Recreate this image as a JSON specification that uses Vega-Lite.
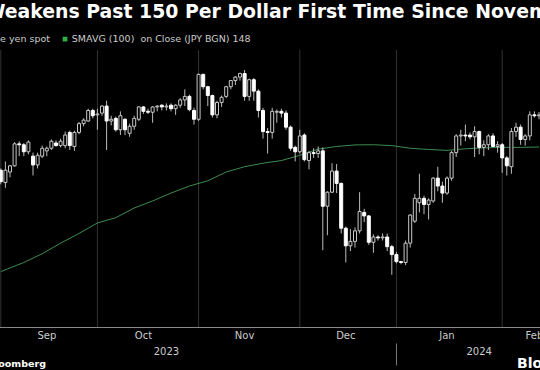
{
  "$schema": "https://vega.github.io/schema/vega-lite/v6.json",
  "width": 540,
  "height": 277,
  "autosize": {"type": "none"},
  "padding": {"top": 50, "left": 0, "right": 0, "bottom": 43},
  "background": "#000000",
  "config": {"view": {"stroke": null}, "font": "DejaVu Sans"},
  "title": {
    "text": "Yen Weakens Past 150 Per Dollar First Time Since November",
    "anchor": "start", "frame": "group", "dx": -60, "offset": -3,
    "baseline": "alphabetic", "font": "DejaVu Sans", "fontSize": 18.85,
    "fontWeight": "bold", "color": "#ffffff", "limit": 0
  },
  "datasets": {
    "candles": [
      {"d":"2023-08-31","o":146.2,"h":146.3,"l":145.4,"c":145.55},
      {"d":"2023-09-01","o":145.5,"h":146.7,"l":145.2,"c":146.2},
      {"d":"2023-09-04","o":146.1,"h":146.5,"l":145.8,"c":146.45},
      {"d":"2023-09-05","o":146.45,"h":147.8,"l":146.4,"c":147.7},
      {"d":"2023-09-06","o":147.7,"h":147.85,"l":147.0,"c":147.65},
      {"d":"2023-09-07","o":147.65,"h":147.75,"l":147.0,"c":147.25},
      {"d":"2023-09-08","o":147.25,"h":147.9,"l":147.1,"c":147.8},
      {"d":"2023-09-11","o":147.0,"h":147.2,"l":145.9,"c":146.5},
      {"d":"2023-09-12","o":146.5,"h":147.2,"l":146.3,"c":147.05},
      {"d":"2023-09-13","o":147.0,"h":147.6,"l":146.9,"c":147.45},
      {"d":"2023-09-14","o":147.3,"h":147.55,"l":147.0,"c":147.45},
      {"d":"2023-09-15","o":147.45,"h":147.95,"l":147.35,"c":147.85},
      {"d":"2023-09-18","o":147.75,"h":147.9,"l":147.55,"c":147.6},
      {"d":"2023-09-19","o":147.6,"h":148.0,"l":147.5,"c":147.85},
      {"d":"2023-09-20","o":147.6,"h":148.4,"l":147.45,"c":148.2},
      {"d":"2023-09-21","o":148.35,"h":148.45,"l":147.35,"c":147.6},
      {"d":"2023-09-22","o":147.55,"h":148.45,"l":147.3,"c":148.35},
      {"d":"2023-09-25","o":148.35,"h":148.95,"l":148.25,"c":148.85},
      {"d":"2023-09-26","o":148.85,"h":149.15,"l":148.7,"c":149.05},
      {"d":"2023-09-27","o":149.0,"h":149.7,"l":148.95,"c":149.6},
      {"d":"2023-09-28","o":149.6,"h":149.7,"l":149.15,"c":149.3},
      {"d":"2023-09-29","o":149.35,"h":149.7,"l":148.5,"c":149.4},
      {"d":"2023-10-02","o":149.45,"h":149.9,"l":149.3,"c":149.85},
      {"d":"2023-10-03","o":149.85,"h":150.15,"l":147.35,"c":149.0},
      {"d":"2023-10-04","o":149.0,"h":149.3,"l":148.75,"c":149.1},
      {"d":"2023-10-05","o":149.15,"h":149.25,"l":148.4,"c":148.5},
      {"d":"2023-10-06","o":148.5,"h":149.55,"l":148.2,"c":149.3},
      {"d":"2023-10-09","o":149.1,"h":149.15,"l":148.2,"c":148.5},
      {"d":"2023-10-10","o":148.3,"h":148.85,"l":148.1,"c":148.7},
      {"d":"2023-10-11","o":148.7,"h":149.3,"l":148.5,"c":149.15},
      {"d":"2023-10-12","o":149.1,"h":149.85,"l":149.0,"c":149.8},
      {"d":"2023-10-13","o":149.8,"h":149.85,"l":149.4,"c":149.55},
      {"d":"2023-10-16","o":149.55,"h":149.7,"l":149.4,"c":149.5},
      {"d":"2023-10-17","o":149.5,"h":149.85,"l":148.9,"c":149.8},
      {"d":"2023-10-18","o":149.8,"h":149.9,"l":149.55,"c":149.85},
      {"d":"2023-10-19","o":149.9,"h":149.95,"l":149.6,"c":149.8},
      {"d":"2023-10-20","o":149.8,"h":150.0,"l":149.6,"c":149.85},
      {"d":"2023-10-23","o":149.9,"h":150.0,"l":149.55,"c":149.7},
      {"d":"2023-10-24","o":149.7,"h":149.95,"l":149.35,"c":149.9},
      {"d":"2023-10-25","o":149.9,"h":150.3,"l":149.75,"c":150.2},
      {"d":"2023-10-26","o":150.2,"h":150.8,"l":149.85,"c":150.4},
      {"d":"2023-10-27","o":150.4,"h":150.5,"l":149.55,"c":149.65},
      {"d":"2023-10-30","o":149.6,"h":149.75,"l":148.8,"c":149.1},
      {"d":"2023-10-31","o":149.1,"h":151.7,"l":149.0,"c":151.65},
      {"d":"2023-11-01","o":151.65,"h":151.7,"l":150.8,"c":150.95},
      {"d":"2023-11-02","o":150.95,"h":151.0,"l":149.85,"c":150.45},
      {"d":"2023-11-03","o":150.45,"h":150.5,"l":149.2,"c":149.35},
      {"d":"2023-11-06","o":149.35,"h":150.15,"l":149.15,"c":150.05},
      {"d":"2023-11-07","o":150.05,"h":150.45,"l":149.8,"c":150.35},
      {"d":"2023-11-08","o":150.4,"h":151.0,"l":150.3,"c":150.95},
      {"d":"2023-11-09","o":150.95,"h":151.3,"l":150.8,"c":151.3},
      {"d":"2023-11-10","o":151.3,"h":151.55,"l":151.05,"c":151.5},
      {"d":"2023-11-13","o":151.5,"h":151.75,"l":151.3,"c":151.7},
      {"d":"2023-11-14","o":151.7,"h":151.9,"l":150.15,"c":150.4},
      {"d":"2023-11-15","o":150.4,"h":151.4,"l":150.15,"c":151.35},
      {"d":"2023-11-16","o":151.35,"h":151.45,"l":150.15,"c":150.7},
      {"d":"2023-11-17","o":150.7,"h":150.8,"l":149.2,"c":149.6},
      {"d":"2023-11-20","o":149.6,"h":149.75,"l":148.0,"c":148.4},
      {"d":"2023-11-21","o":148.4,"h":148.6,"l":147.15,"c":148.35},
      {"d":"2023-11-22","o":148.35,"h":149.75,"l":148.0,"c":149.55},
      {"d":"2023-11-23","o":149.5,"h":149.65,"l":148.9,"c":149.55},
      {"d":"2023-11-24","o":149.55,"h":149.7,"l":149.2,"c":149.45},
      {"d":"2023-11-27","o":149.45,"h":149.6,"l":148.5,"c":148.65},
      {"d":"2023-11-28","o":148.65,"h":148.75,"l":147.3,"c":147.45},
      {"d":"2023-11-29","o":147.5,"h":147.6,"l":146.7,"c":147.25},
      {"d":"2023-11-30","o":147.25,"h":148.5,"l":147.15,"c":148.15},
      {"d":"2023-12-01","o":148.2,"h":148.3,"l":146.7,"c":146.8},
      {"d":"2023-12-04","o":146.75,"h":147.3,"l":146.25,"c":147.2},
      {"d":"2023-12-05","o":147.2,"h":147.45,"l":146.9,"c":147.15},
      {"d":"2023-12-06","o":147.15,"h":147.55,"l":146.9,"c":147.3},
      {"d":"2023-12-07","o":147.3,"h":147.5,"l":141.65,"c":144.15},
      {"d":"2023-12-08","o":144.15,"h":145.0,"l":142.5,"c":144.95},
      {"d":"2023-12-11","o":144.95,"h":146.6,"l":144.9,"c":146.15},
      {"d":"2023-12-12","o":146.15,"h":146.55,"l":144.9,"c":145.45},
      {"d":"2023-12-13","o":145.45,"h":145.5,"l":142.6,"c":142.9},
      {"d":"2023-12-14","o":142.9,"h":143.0,"l":140.95,"c":141.9},
      {"d":"2023-12-15","o":141.9,"h":142.85,"l":141.6,"c":142.15},
      {"d":"2023-12-18","o":142.15,"h":142.95,"l":141.8,"c":142.75},
      {"d":"2023-12-19","o":142.75,"h":144.95,"l":142.6,"c":143.85},
      {"d":"2023-12-20","o":143.8,"h":144.0,"l":143.25,"c":143.6},
      {"d":"2023-12-21","o":143.6,"h":143.65,"l":141.95,"c":142.1},
      {"d":"2023-12-22","o":142.1,"h":142.55,"l":141.5,"c":142.4},
      {"d":"2023-12-25","o":142.4,"h":142.5,"l":142.2,"c":142.35},
      {"d":"2023-12-26","o":142.35,"h":142.6,"l":142.2,"c":142.4},
      {"d":"2023-12-27","o":142.4,"h":142.6,"l":141.6,"c":141.85},
      {"d":"2023-12-28","o":141.85,"h":141.95,"l":140.25,"c":141.4},
      {"d":"2023-12-29","o":141.4,"h":141.55,"l":140.9,"c":141.0},
      {"d":"2024-01-01","o":141.0,"h":141.05,"l":140.85,"c":140.95},
      {"d":"2024-01-02","o":140.95,"h":142.2,"l":140.8,"c":142.05},
      {"d":"2024-01-03","o":142.05,"h":143.7,"l":141.8,"c":143.65},
      {"d":"2024-01-04","o":143.3,"h":144.85,"l":143.2,"c":144.6},
      {"d":"2024-01-05","o":144.35,"h":146.0,"l":143.8,"c":144.6},
      {"d":"2024-01-08","o":144.6,"h":144.75,"l":143.7,"c":144.25},
      {"d":"2024-01-09","o":144.25,"h":144.6,"l":143.4,"c":144.5},
      {"d":"2024-01-10","o":144.45,"h":145.8,"l":144.35,"c":145.75},
      {"d":"2024-01-11","o":145.75,"h":146.4,"l":145.0,"c":145.3},
      {"d":"2024-01-12","o":145.3,"h":145.55,"l":144.35,"c":144.9},
      {"d":"2024-01-15","o":144.9,"h":145.85,"l":144.8,"c":145.75},
      {"d":"2024-01-16","o":145.75,"h":147.3,"l":145.6,"c":147.2},
      {"d":"2024-01-17","o":147.2,"h":148.25,"l":146.95,"c":148.15},
      {"d":"2024-01-18","o":148.15,"h":148.5,"l":147.6,"c":148.2},
      {"d":"2024-01-19","o":148.2,"h":148.8,"l":147.85,"c":148.15},
      {"d":"2024-01-22","o":148.2,"h":148.35,"l":147.95,"c":148.1},
      {"d":"2024-01-23","o":148.1,"h":148.7,"l":146.95,"c":148.4},
      {"d":"2024-01-24","o":148.4,"h":148.45,"l":147.1,"c":147.5},
      {"d":"2024-01-25","o":147.5,"h":147.9,"l":147.0,"c":147.65},
      {"d":"2024-01-26","o":147.65,"h":148.25,"l":147.35,"c":148.15},
      {"d":"2024-01-29","o":148.15,"h":148.3,"l":147.5,"c":147.55},
      {"d":"2024-01-30","o":147.55,"h":147.85,"l":147.2,"c":147.65},
      {"d":"2024-01-31","o":147.65,"h":147.75,"l":146.05,"c":146.9},
      {"d":"2024-02-01","o":146.9,"h":147.0,"l":145.9,"c":146.45},
      {"d":"2024-02-02","o":146.4,"h":148.6,"l":146.0,"c":148.4},
      {"d":"2024-02-05","o":148.4,"h":148.9,"l":148.1,"c":148.65},
      {"d":"2024-02-06","o":148.65,"h":148.8,"l":147.65,"c":147.95},
      {"d":"2024-02-07","o":147.95,"h":148.25,"l":147.6,"c":148.15},
      {"d":"2024-02-08","o":148.15,"h":149.55,"l":147.9,"c":149.35},
      {"d":"2024-02-09","o":149.35,"h":149.55,"l":149.2,"c":149.3},
      {"d":"2024-02-12","o":149.3,"h":149.5,"l":149.1,"c":149.35}
    ],
    "sma": [
      {"d":"2023-08-31","v":140.43},
      {"d":"2023-09-07","v":140.95},
      {"d":"2023-09-13","v":141.45},
      {"d":"2023-09-19","v":142.05},
      {"d":"2023-09-25","v":142.6},
      {"d":"2023-09-29","v":143.2},
      {"d":"2023-10-05","v":143.5},
      {"d":"2023-10-11","v":144.05},
      {"d":"2023-10-17","v":144.45},
      {"d":"2023-10-23","v":144.9},
      {"d":"2023-10-27","v":145.3},
      {"d":"2023-11-02","v":145.6},
      {"d":"2023-11-08","v":146.1},
      {"d":"2023-11-14","v":146.4},
      {"d":"2023-11-20","v":146.6},
      {"d":"2023-11-24","v":146.75},
      {"d":"2023-11-30","v":147.05},
      {"d":"2023-12-06","v":147.4},
      {"d":"2023-12-12","v":147.55},
      {"d":"2023-12-18","v":147.64},
      {"d":"2023-12-22","v":147.65},
      {"d":"2023-12-28","v":147.6},
      {"d":"2024-01-03","v":147.45},
      {"d":"2024-01-09","v":147.38},
      {"d":"2024-01-15","v":147.33},
      {"d":"2024-01-19","v":147.42},
      {"d":"2024-01-25","v":147.47},
      {"d":"2024-01-31","v":147.5},
      {"d":"2024-02-06","v":147.5},
      {"d":"2024-02-12","v":147.52}
    ],
    "monthEnds": [
      {"d":"2023-08-31"},
      {"d":"2023-09-29"},
      {"d":"2023-10-31"},
      {"d":"2023-11-30"},
      {"d":"2023-12-29"},
      {"d":"2024-01-31"}
    ]
  },
  "layer": [
    {
      "data": {"name": "monthEnds"},
      "mark": {"type": "rule", "color": "#333333", "strokeWidth": 1},
      "encoding": {
        "x": {
          "field": "d", "type": "ordinal",
          "scale": {"type": "band", "range": [-1.5, 541.3], "paddingInner": 0, "paddingOuter": 0},
          "axis": {
            "orient": "bottom", "values": ["2023-12-29"], "bandPosition": 0.5,
            "labels": false, "domain": false, "grid": false, "ticks": true,
            "tickSize": 22, "tickColor": "#777777", "tickWidth": 1, "offset": 16,
            "title": "Bloomberg", "titleX": 516.5, "titleY": 24, "titleAlign": "left",
            "titleAnchor": "start", "titleBaseline": "alphabetic", "titleFont": "DejaVu Sans",
            "titleFontWeight": "bold", "titleFontSize": 14, "titleColor": "#ffffff"
          }
        }
      }
    },
    {
      "data": {"name": "sma"},
      "mark": {"type": "line", "strokeWidth": 1},
      "encoding": {
        "x": {
          "field": "d", "type": "ordinal",
          "axis": {
            "orient": "bottom", "values": ["2023-10-20", "2024-01-24"], "bandPosition": 1,
            "labelExpr": "utcFormat(toDate(datum.value), '%Y')",
            "ticks": false, "domain": false, "grid": false, "labelPadding": 27,
            "labelBaseline": "alphabetic", "labelColor": "#cccccc", "labelFontSize": 10,
            "labelFont": "DejaVu Sans", "labelOverlap": false, "labelAngle": 0,
            "title": "Source: Bloomberg", "titleX": 45.5, "titleY": 39.5, "titleAlign": "right",
            "titleAnchor": "start", "titleBaseline": "alphabetic", "titleFont": "DejaVu Sans",
            "titleFontWeight": "bold", "titleFontSize": 9.5, "titleColor": "#ffffff"
          }
        },
        "y": {"field": "v", "type": "quantitative", "axis": null},
        "stroke": {
          "datum": "SMAVG (100)\u00a0 on Close (JPY BGN) 148",
          "scale": {
            "domain": ["Japanese yen spot", "SMAVG (100)\u00a0 on Close (JPY BGN) 148"],
            "range": ["#ffffff", "#3c8c50"]
          },
          "legend": {
            "orient": "none", "legendX": -48.7, "legendY": -16, "direction": "horizontal",
            "title": null, "symbolType": "square", "symbolSize": 22, "symbolStrokeWidth": 0,
            "labelFont": "DejaVu Sans", "labelFontSize": 9.5, "labelColor": "#cccccc",
            "labelOffset": 2, "columnPadding": 10, "padding": 0, "labelLimit": 0,
            "encode": {"symbols": {"update": {"fill": {"value": "#2fb344"}, "stroke": {"value": "#2fb344"}, "strokeWidth": {"value": 0}}}}
          }
        }
      }
    },
    {
      "data": {"name": "candles"},
      "mark": {"type": "rule", "color": "#bbbbbb", "strokeWidth": 1},
      "encoding": {
        "x": {
          "field": "d", "type": "ordinal",
          "axis": {
            "orient": "bottom",
            "values": ["2023-09-14", "2023-10-13", "2023-11-14", "2023-12-14", "2024-01-15", "2024-02-09"],
            "bandPosition": 1,
            "labelExpr": "utcFormat(toDate(datum.value), '%b')",
            "ticks": false, "grid": false, "domain": true, "domainColor": "#888888", "domainWidth": 1,
            "labelPadding": 11.5, "labelBaseline": "alphabetic", "labelColor": "#cccccc",
            "labelFontSize": 10, "labelFont": "DejaVu Sans", "labelOverlap": false, "labelAngle": 0,
            "title": null
          }
        },
        "y": {
          "field": "l", "type": "quantitative",
          "scale": {"domain": [137.28, 153.04], "nice": false, "zero": false},
          "axis": {
            "values": [138, 140, 142, 144, 146, 148, 150, 152],
            "grid": true, "gridColor": "#333333", "gridWidth": 1,
            "labels": false, "ticks": false, "domain": false, "title": null
          }
        },
        "y2": {"field": "h"}
      }
    },
    {
      "data": {"name": "candles"},
      "mark": {"type": "bar", "width": 3, "strokeWidth": 1},
      "encoding": {
        "x": {"field": "d", "type": "ordinal", "axis": null},
        "y": {"field": "o", "type": "quantitative"},
        "y2": {"field": "c"},
        "fill": {"condition": {"test": "datum.c < datum.o", "value": "#ffffff"}, "value": "#000000"},
        "stroke": {"condition": {"test": "datum.c < datum.o", "value": "#ffffff"}, "value": "#c8c8c8"}
      }
    }
  ],
  "resolve": {"axis": {"x": "independent"}}
}
